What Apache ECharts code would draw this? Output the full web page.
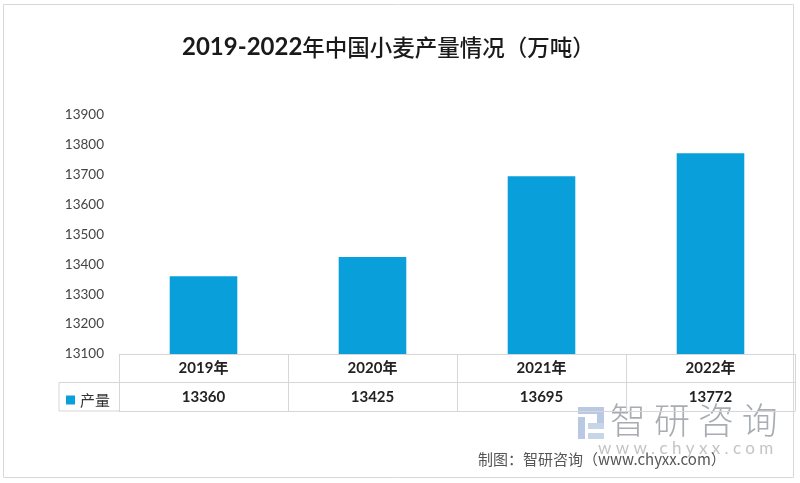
<!DOCTYPE html>
<html><head><meta charset="utf-8">
<script src="https://cdn.jsdelivr.net/npm/echarts@6/dist/echarts.min.js"></script>
<style>html,body{margin:0;padding:0;background:#fff}#c{width:800px;height:483px}</style>
</head><body><div id="c"></div>
<script>
const categories = ['2019年', '2020年', '2021年', '2022年'];
const seriesName = '产量';
const values = [13360, 13425, 13695, 13772];
const yTicks = { min: 13100, max: 13900, step: 100 };
const titleText = ['2019-2022', '年中国小麦产量情况（万吨）'];
const footerText = '制图：智研咨询（www.chyxx.com）';

const BLUE = '#089FDB';
const LINE = '#d6d6d6';
const G = { left: 119, right: 5, top: 115, bottom: 129 };
const chart = echarts.init(document.getElementById('c'));
const gridBottomY = 483 - G.bottom;
const rowH = 28.5;

chart.setOption({
  animation: false,
  title: {
    text: '{a|' + titleText[0] + '}{b|' + titleText[1] + '}',
    left: 177, top: 30,
    textStyle: {
      rich: {
        a: { fontFamily: 'Lato', fontWeight: 'bold', fontSize: 24, color: '#1a1a1a' },
        b: { fontFamily: 'Noto Sans CJK SC', fontWeight: 500, fontSize: 22.5, color: '#1a1a1a' }
      }
    }
  },
  legend: {
    data: [seriesName], left: 61, top: gridBottomY + rowH + 5,
    icon: 'rect', itemWidth: 9, itemHeight: 9, itemGap: 4,
    textStyle: { fontFamily: 'Noto Sans CJK SC', fontSize: 15, color: '#333' }
  },
  grid: G,
  xAxis: [
    {
      type: 'category', data: categories, position: 'bottom',
      axisLine: { show: true, lineStyle: { color: LINE } },
      axisTick: { show: true, interval: 0, length: rowH * 2, lineStyle: { color: LINE } },
      axisLabel: { margin: 14, verticalAlign: 'middle', fontFamily: 'Lato, "Noto Sans CJK SC"', fontWeight: 'bold', fontSize: 15, color: '#222' }
    },
    {
      type: 'category', data: categories, position: 'bottom', offset: rowH,
      axisLine: { show: true, lineStyle: { color: LINE } },
      axisTick: { show: false },
      axisLabel: { margin: 14.5, verticalAlign: 'middle', fontFamily: 'Lato', fontWeight: 'bold', fontSize: 15, color: '#222',
        formatter: (v, i) => String(values[i]) }
    },
    {
      type: 'category', data: categories, position: 'bottom', offset: rowH * 2,
      axisLine: { show: true, lineStyle: { color: LINE } },
      axisTick: { show: false }, axisLabel: { show: false }
    }
  ],
  yAxis: {
    type: 'value', min: yTicks.min, max: yTicks.max, interval: yTicks.step,
    axisLine: { show: false }, axisTick: { show: false }, splitLine: { show: false },
    axisLabel: { margin: 15, fontFamily: 'Lato', fontSize: 13.5, color: '#444', formatter: v => String(v) }
  },
  series: [{
    name: seriesName, type: 'bar', data: values, barWidth: '40%', xAxisIndex: 0,
    itemStyle: { color: BLUE }
  }]
});

const x0 = G.left;
const xL = 59;
const y1 = gridBottomY + rowH, y2 = gridBottomY + rowH * 2;
chart.setOption({
  graphic: [
    { type: 'rect', shape: { x: 3.5, y: 4.5, width: 790, height: 473 }, style: { fill: 'none', stroke: '#d8d8d8', lineWidth: 1 }, silent: true },
    { type: 'line', shape: { x1: xL, y1: y1, x2: x0, y2: y1 }, style: { stroke: LINE, lineWidth: 1 } },
    { type: 'line', shape: { x1: xL, y1: y2, x2: x0, y2: y2 }, style: { stroke: LINE, lineWidth: 1 } },
    { type: 'line', shape: { x1: xL, y1: y1, x2: xL, y2: y2 }, style: { stroke: LINE, lineWidth: 1 } },
    { type: 'group', left: 578, top: 407, silent: true, children: [
      { type: 'rect', shape: { x: 0, y: 0, width: 26, height: 7 }, style: { fill: '#b9c9e3' } },
      { type: 'rect', shape: { x: 0, y: 10, width: 7, height: 22 }, style: { fill: '#b9c9e3' } },
      { type: 'rect', shape: { x: 19, y: 7, width: 7, height: 12 }, style: { fill: '#b9c9e3' } },
      { type: 'rect', shape: { x: 10, y: 16, width: 16, height: 6 }, style: { fill: '#c8d4e8' } },
      { type: 'rect', shape: { x: 10, y: 26, width: 16, height: 6 }, style: { fill: '#c8d4e8' } }
    ]},
    { type: 'text', left: 610, top: 402, silent: true,
      style: { text: '智 研 咨 询', fontFamily: 'Noto Sans CJK SC', fontSize: 36, fontWeight: 300, fill: '#a9adb3' } },
    { type: 'text', left: 598, top: 440, silent: true,
      style: { text: 'w w w . c h y x x . c o m', fontFamily: 'Lato', fontSize: 17, fill: '#c4c4c4' } },
    { type: 'text', left: 478, top: 452, silent: true,
      style: { text: footerText, fontFamily: 'Noto Sans CJK SC', fontSize: 15, fill: '#555' } }
  ]
});
</script></body></html>
